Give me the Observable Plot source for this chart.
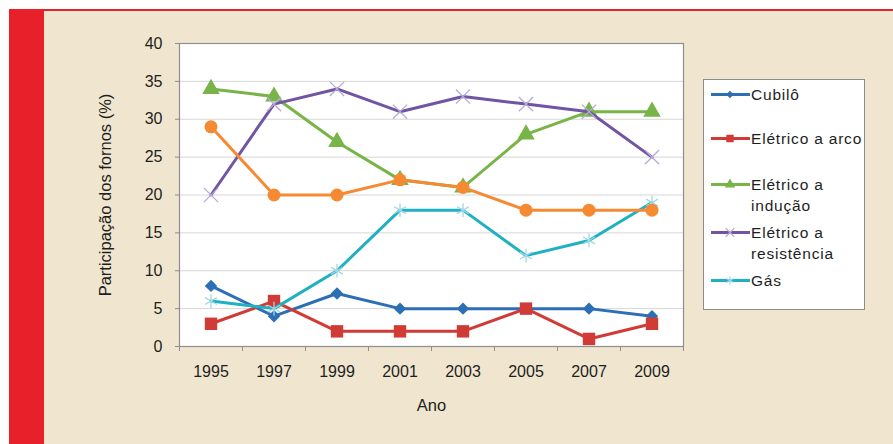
<!DOCTYPE html>
<html>
<head>
<meta charset="utf-8">
<script src="https://cdn.jsdelivr.net/npm/d3@7"></script>
<script src="https://cdn.jsdelivr.net/npm/@observablehq/plot@0.6"></script>
<style>
  body { margin: 0; background: #fff; font-family: "Liberation Sans", Arial, sans-serif; }
  #wrap { position: relative; width: 893px; height: 444px; overflow: hidden; background: #fff; }
  #panel { position: absolute; left: 9px; top: 9px; right: 0; bottom: 0; background: #f0e6cf; border-top: 2px solid #e8202a; }
  #bar { position: absolute; left: 9px; top: 9px; width: 35px; bottom: 0; background: #e8202a; }
  #chart { position: absolute; left: 0; top: 0; }
  #chart [aria-label="y-axis label"] text,
  #chart [aria-label="x-axis label"] text { font-size: 16.5px; }
  #legend { position: absolute; left: 703px; top: 79px; width: 162px; height: 231px; background: #fff; border: 1px solid #8c8c8c; box-sizing: border-box; }
  .item { position: absolute; left: 6px; display: flex; align-items: flex-start; }
  .item svg { flex: none; }
  .item span { font-size: 15.5px; letter-spacing: 0.8px; line-height: 21px; color: #1e1e1e; margin-left: 1px; white-space: nowrap; }
</style>
</head>
<body>
<div id="wrap">
  <div id="panel"></div>
  <div id="bar"></div>
  <div id="chart"></div>
  <div id="legend"></div>
</div>
<script>
// Participação dos fornos por tipo, 1995–2009 (%)
const years = [1995, 1997, 1999, 2001, 2003, 2005, 2007, 2009];
const cubilo = [8, 4, 7, 5, 5, 5, 5, 4];
const eletricoArco = [3, 6, 2, 2, 2, 5, 1, 3];
const eletricoInducao = [34, 33, 27, 22, 21, 28, 31, 31];
const eletricoResistencia = [20, 32, 34, 31, 33, 32, 31, 25];
const gas = [6, 5, 10, 18, 18, 12, 14, 19];
const serie6 = [29, 20, 20, 22, 21, 18, 18, 18];
const yTicks = [0, 5, 10, 15, 20, 25, 30, 35, 40];
const yearBounds = [1994, 1996, 1998, 2000, 2002, 2004, 2006, 2008, 2010];

const series = [
  {name: "Cubilô", lines: ["Cubilô"], values: cubilo, color: "#2c6fb4", symbol: "diamond2", r: 5.6, markFill: "#2c6fb4", markStroke: "none", legend: true},
  {name: "Elétrico a arco", lines: ["Elétrico a arco"], values: eletricoArco, color: "#d13b36", symbol: "square", r: 7, markFill: "#d13b36", markStroke: "none", legend: true},
  {name: "Elétrico a indução", lines: ["Elétrico a", "indução"], values: eletricoInducao, color: "#78b447", symbol: "triangle", r: 6.5, markFill: "#78b447", markStroke: "none", legend: true},
  {name: "Elétrico a resistência", lines: ["Elétrico a", "resistência"], values: eletricoResistencia, color: "#7154a3", symbol: "times", r: 6.5, markFill: "none", markStroke: "#b7aad6", legend: true},
  {name: "Gás", lines: ["Gás"], values: gas, color: "#1fb0c1", symbol: "asterisk", r: 6.5, markFill: "none", markStroke: "#9fd8e4", legend: true},
  {name: "", lines: [], values: serie6, color: "#f58a33", symbol: "circle", r: 6.5, markFill: "#f58a33", markStroke: "none", legend: false}
];

const rows = s => years.map((year, i) => ({year, value: s.values[i]}));

const lineMarks = series.flatMap(s => [
  Plot.lineY(rows(s), {x: "year", y: "value", stroke: s.color, strokeWidth: 3, strokeLinejoin: "round"}),
  Plot.dot(rows(s), {x: "year", y: "value", symbol: s.symbol, r: s.r, fill: s.markFill, stroke: s.markStroke, strokeWidth: 1.3})
]);

const chart = Plot.plot({
  width: 893,
  height: 444,
  marginLeft: 179,
  marginRight: 210,
  marginTop: 43,
  marginBottom: 98,
  style: {background: "transparent", fontFamily: "'Liberation Sans', Arial, sans-serif", fontSize: "16px", color: "#1e1e1e"},
  x: {type: "linear", domain: [1994, 2010]},
  y: {domain: [0, 40]},
  marks: [
    Plot.frame({fill: "#fff", stroke: "none"}),
    Plot.ruleY(yTicks.filter(d => d > 0 && d < 40), {stroke: "#d6d6d6", strokeWidth: 1}),
    Plot.frame({stroke: "#8e8e8e", strokeWidth: 1.2}),
    Plot.axisY({ticks: yTicks, tickSize: 4, tickPadding: 13, stroke: "#8e8e8e", tickFormat: d => String(d),
      label: "Participação dos fornos (%)", labelAnchor: "center", labelOffset: 80, labelArrow: "none"}),
    Plot.axisX({ticks: yearBounds, tickSize: 5, tickFormat: () => "", stroke: "#8e8e8e", label: null}),
    Plot.axisX({ticks: years, tickSize: 0, tickPadding: 19, tickFormat: d => String(d),
      label: "Ano", labelAnchor: "center", labelOffset: 64, labelArrow: "none"}),
    ...lineMarks
  ]
});
document.getElementById("chart").appendChild(chart);

// Legend: line sample with marker, then the series name
const legendTops = [4, 48, 94, 142, 190];
const legend = d3.select("#legend");
series.filter(s => s.legend).forEach((s, i) => {
  const item = legend.append("div").attr("class", "item").style("top", legendTops[i] + "px");
  const svg = item.append("svg").attr("width", 40).attr("height", 21);
  svg.append("line").attr("x1", 1).attr("x2", 40).attr("y1", 10.5).attr("y2", 10.5)
    .attr("stroke", s.color).attr("stroke-width", 3);
  const sym = {diamond2: d3.symbolDiamond2, square: d3.symbolSquare, triangle: d3.symbolTriangle,
    times: d3.symbolTimes, asterisk: d3.symbolAsterisk, circle: d3.symbolCircle}[s.symbol];
  svg.append("path").attr("transform", "translate(20,10.5)")
    .attr("d", d3.symbol(sym, Math.PI * (s.r * 0.6) ** 2)())
    .attr("fill", s.markFill).attr("stroke", s.markStroke).attr("stroke-width", 1.2);
  item.append("span").html(s.lines.join("<br>"));
});
</script>
</body>
</html>
